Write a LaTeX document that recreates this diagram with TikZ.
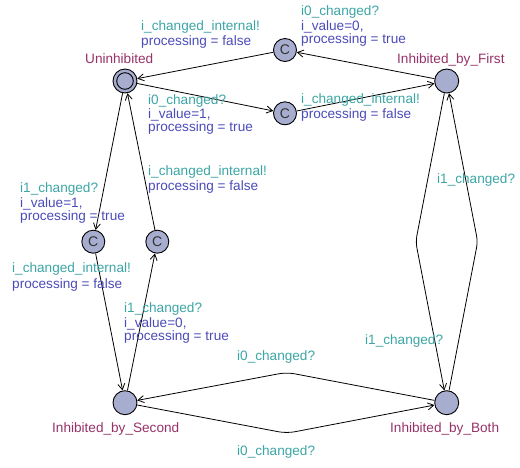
\documentclass[tikz,border=0pt]{standalone}
\usepackage{fontspec}
\setmainfont{Liberation Sans}
\usetikzlibrary{arrows.meta}
\definecolor{locfill}{RGB}{166,173,206}
\definecolor{namecol}{RGB}{150,50,105}
\definecolor{synccol}{RGB}{60,165,165}
\definecolor{updcol}{RGB}{75,75,185}
\tikzset{
 loc/.style={circle, draw=black, fill=locfill, line width=0.9pt, minimum size=24pt, inner sep=0pt},
 comm/.style={loc, minimum size=23pt, font=\fontsize{14}{14}\selectfont, text=black!80},
 lbl/.style={anchor=base west, inner sep=0pt, font=\fontsize{13.6}{14}\selectfont},
 nm/.style={lbl, text=namecol},
 sy/.style={lbl, text=synccol},
 up/.style={lbl, text=updcol},
 edge/.style={draw, line width=0.8pt, -{Straight Barb[length=6pt,width=7pt]}},
}
\begin{document}
\begin{tikzpicture}[x=1pt,y=-1pt]
\useasboundingbox (0,0) rectangle (520,467);
% locations
\node[loc] (uninh) at (125,81) {};
\draw[line width=0.9pt] (uninh.center) circle (8.3);
\node[loc] (ibf) at (446.7,81) {};
\node[loc] (ibs) at (125,402.7) {};
\node[loc] (ibb) at (446.7,402.7) {};
\node[comm] (ctop) at (285,50) {C};
\node[comm] (cmid) at (285,113.3) {C};
\node[comm] (cl1) at (93.3,241.7) {C};
\node[comm] (cl2) at (157.3,241.7) {C};
% bend points
\coordinate (bl) at (415.7,241.7);
\coordinate (br) at (477.7,241.7);
\coordinate (bt) at (286.7,372.3);
\coordinate (bb) at (286.7,433.3);
% edges
\draw[edge] (ibf) -- (ctop);
\draw[edge] (ctop) -- (uninh);
\draw[edge] (uninh) -- (cmid);
\draw[edge] (cmid) -- (ibf);
\draw[edge] (uninh) -- (cl1);
\draw[edge] (cl1) -- (ibs);
\draw[edge] (ibs) -- (cl2);
\draw[edge] (cl2) -- (uninh);
\draw[edge, rounded corners=6pt] (ibf) -- (bl) -- (ibb);
\draw[edge, rounded corners=6pt] (ibb) -- (br) -- (ibf);
\draw[edge, rounded corners=8pt] (ibb) -- (bt) -- (ibs);
\draw[edge, rounded corners=8pt] (ibs) -- (bb) -- (ibb);
% names
\node[nm] (n1) at (85,63) {Uninhibited};
\node[nm] (n2) at (397,63) {Inhibited\_by\_First};
\node[nm] (n3) at (52,432) {Inhibited\_by\_Second};
\node[nm] (n4) at (390,432) {Inhibited\_by\_Both};
% labels
\node[sy] (a1) at (141,30) {i\_changed\_internal!};
\node[up] (a2) at (141,45.5) {processing = false};
\node[sy] (b1) at (301,15) {i0\_changed?};
\node[up] (b2) at (301,30.5) {i\_value=0,};
\node[up] (b3) at (301,43.5) {processing = true};
\node[sy] (c1) at (148,104) {i0\_changed?};
\node[up] (c2) at (148,118.5) {i\_value=1,};
\node[up] (c3) at (148,131.5) {processing = true};
\node[sy] (d1) at (301,103.5) {i\_changed\_internal!};
\node[up] (d2) at (301,118.5) {processing = false};
\node[sy] (e1) at (20,192) {i1\_changed?};
\node[up] (e2) at (20,207.5) {i\_value=1,};
\node[up] (e3) at (20,220.5) {processing = true};
\node[sy] (f1) at (148,175) {i\_changed\_internal!};
\node[up] (f2) at (148,190.5) {processing = false};
\node[sy] (g1) at (12,272) {i\_changed\_internal!};
\node[up] (g2) at (12,288) {processing = false};
\node[sy] (h1) at (124,312) {i1\_changed?};
\node[up] (h2) at (124,327.5) {i\_value=0,};
\node[up] (h3) at (124,340.5) {processing = true};
\node[sy] (k1) at (437,183) {i1\_changed?};
\node[sy] (k2) at (365,344) {i1\_changed?};
\node[sy] (m1) at (237,360) {i0\_changed?};
\node[sy] (m2) at (237,455) {i0\_changed?};
\end{tikzpicture}
\end{document}
